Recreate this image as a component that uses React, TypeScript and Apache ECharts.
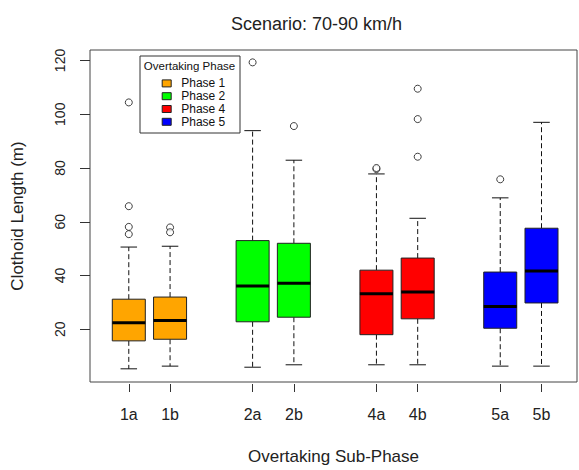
import React, { useEffect, useRef } from "react";
import * as echarts from "echarts";

const categories = ["1a", "1b", "2a", "2b", "4a", "4b", "5a", "5b"];
const positions = [1, 2, 4, 5, 7, 8, 10, 11];
const phaseOfCategory = [0, 0, 1, 1, 2, 2, 3, 3];
const phaseNames = ["Phase 1", "Phase 2", "Phase 4", "Phase 5"];
const phaseColors = ["#FFA500", "#00FF00", "#FF0000", "#0000FF"];

const lowerWhisker = [5.3, 6.3, 5.9, 6.8, 6.8, 6.8, 6.3, 6.3];
const q1 = [15.7, 16.3, 22.8, 24.5, 18.0, 23.9, 20.4, 29.8];
const median = [22.4, 23.3, 36.1, 37.1, 33.2, 33.9, 28.5, 41.7];
const q3 = [31.2, 32.0, 53.0, 52.0, 42.0, 46.5, 41.3, 57.6];
const upperWhisker = [50.6, 50.9, 93.9, 82.9, 77.8, 61.3, 68.9, 97.0];
const outliers: number[][] = [
  [104.4, 65.8, 58.1, 55.4],
  [57.9, 56.1],
  [119.3],
  [95.6],
  [79.6, 80.0],
  [109.5, 98.2, 84.2],
  [75.8],
  [],
];
const yTicks = [20, 40, 60, 80, 100, 120];

const FONT = "'Liberation Sans', Arial, sans-serif";

export default function App() {
  const ref = useRef<HTMLDivElement>(null);
  useEffect(() => {
    if (!ref.current) return;
    const chart = echarts.init(ref.current, undefined, { renderer: "svg" });

    const renderItem = (params: any, api: any) => {
      const x = api.value(0);
      const lo = api.value(1);
      const b1 = api.value(2);
      const med = api.value(3);
      const b3 = api.value(4);
      const hi = api.value(5);
      const halfBox = api.size([0.8, 0])[0] / 2;
      const halfCap = halfBox / 2;
      const pLo = api.coord([x, lo]);
      const pB1 = api.coord([x, b1]);
      const pMed = api.coord([x, med]);
      const pB3 = api.coord([x, b3]);
      const pHi = api.coord([x, hi]);
      const cx = pMed[0];
      const dash = { stroke: "#111", lineWidth: 1, lineDash: [5, 3] };
      const solid = { stroke: "#111", lineWidth: 1 };
      return {
        type: "group",
        children: [
          { type: "line", shape: { x1: cx, y1: pB3[1], x2: cx, y2: pHi[1] }, style: dash },
          { type: "line", shape: { x1: cx, y1: pB1[1], x2: cx, y2: pLo[1] }, style: dash },
          { type: "line", shape: { x1: cx - halfCap, y1: pHi[1], x2: cx + halfCap, y2: pHi[1] }, style: solid },
          { type: "line", shape: { x1: cx - halfCap, y1: pLo[1], x2: cx + halfCap, y2: pLo[1] }, style: solid },
          {
            type: "rect",
            shape: { x: cx - halfBox, y: pB3[1], width: halfBox * 2, height: pB1[1] - pB3[1] },
            style: { fill: api.visual("color"), stroke: "#222", lineWidth: 1 },
          },
          {
            type: "line",
            shape: { x1: cx - halfBox, y1: pMed[1], x2: cx + halfBox, y2: pMed[1] },
            style: { stroke: "#000", lineWidth: 3 },
          },
        ],
      };
    };

    const boxSeries = phaseNames.map((name, p) => ({
      type: "custom",
      name,
      renderItem,
      itemStyle: { color: phaseColors[p] },
      encode: { x: 0, y: [1, 2, 3, 4, 5] },
      data: categories
        .map((_, i) => i)
        .filter((i) => phaseOfCategory[i] === p)
        .map((i) => [positions[i], lowerWhisker[i], q1[i], median[i], q3[i], upperWhisker[i]]),
      z: 3,
    }));

    const outlierData: number[][] = [];
    outliers.forEach((arr, i) => arr.forEach((v) => outlierData.push([positions[i], v])));

    chart.setOption({
      animation: false,
      textStyle: { fontFamily: FONT },
      title: {
        text: "Scenario: 70-90 km/h",
        left: 226,
        top: 10,
        textStyle: { fontFamily: FONT, fontSize: 18, fontWeight: "normal", color: "#222" },
      },
      grid: {
        left: 90,
        top: 50,
        width: 487,
        height: 336.7,
        show: true,
        borderColor: "#444",
        borderWidth: 1,
        backgroundColor: "transparent",
      },
      legend: {
        orient: "vertical",
        left: 161.7,
        top: 77,
        padding: 0,
        itemGap: 0,
        itemWidth: 9,
        itemHeight: 7,
        selectedMode: false,
        textStyle: {
          fontFamily: FONT,
          fontSize: 12,
          color: "#111",
          lineHeight: 12.8,
          padding: [0, 0, 0, 5],
        },
        data: phaseNames.map((name, p) => ({
          name,
          icon: "rect",
          itemStyle: { color: phaseColors[p], borderColor: "#222", borderWidth: 1 },
        })),
        z: 10,
      },
      graphic: [
        {
          type: "rect",
          shape: { x: 140, y: 56, width: 100, height: 77 },
          style: { fill: "#fff", stroke: "#333", lineWidth: 1 },
          z: 5,
        },
        {
          type: "text",
          x: 189.5,
          y: 65.7,
          style: {
            text: "Overtaking Phase",
            fontFamily: FONT,
            fontSize: 11.5,
            fill: "#111",
            align: "center",
            verticalAlign: "middle",
          },
          z: 6,
        },
      ],
      xAxis: {
        type: "value",
        min: 0.06,
        max: 11.86,
        offset: 2,
        name: "Overtaking Sub-Phase",
        nameLocation: "middle",
        nameGap: 64,
        nameTextStyle: { fontFamily: FONT, fontSize: 17, color: "#222" },
        axisLine: { show: false },
        splitLine: { show: false },
        axisTick: { show: true, length: 8, customValues: positions, lineStyle: { color: "#333" } },
        axisLabel: {
          customValues: positions,
          margin: 22,
          fontFamily: FONT,
          fontSize: 16,
          color: "#222",
          formatter: (v: number) => {
            const i = positions.indexOf(Math.round(v));
            return i >= 0 ? categories[i] : "";
          },
        },
      },
      yAxis: {
        type: "value",
        min: 0.4,
        max: 123.9,
        name: "Clothoid Length (m)",
        nameLocation: "middle",
        nameGap: 64,
        nameTextStyle: { fontFamily: FONT, fontSize: 17, color: "#222" },
        axisLine: { show: false },
        splitLine: { show: false },
        axisTick: { show: true, length: 10, customValues: yTicks, lineStyle: { color: "#333" } },
        axisLabel: {
          customValues: yTicks,
          rotate: 90,
          margin: 23,
          fontFamily: FONT,
          fontSize: 14,
          color: "#222",
        },
      },
      series: [
        ...boxSeries,
        {
          type: "scatter",
          name: "outliers",
          data: outlierData,
          symbol: "circle",
          symbolSize: 7,
          itemStyle: { color: "#fff", borderColor: "#111", borderWidth: 1 },
          z: 4,
        },
      ],
    });
    return () => chart.dispose();
  }, []);
  return (
    <div
      ref={ref}
      style={{ position: "fixed", left: 0, top: 0, width: 579, height: 470, background: "#fff" }}
    />
  );
}
